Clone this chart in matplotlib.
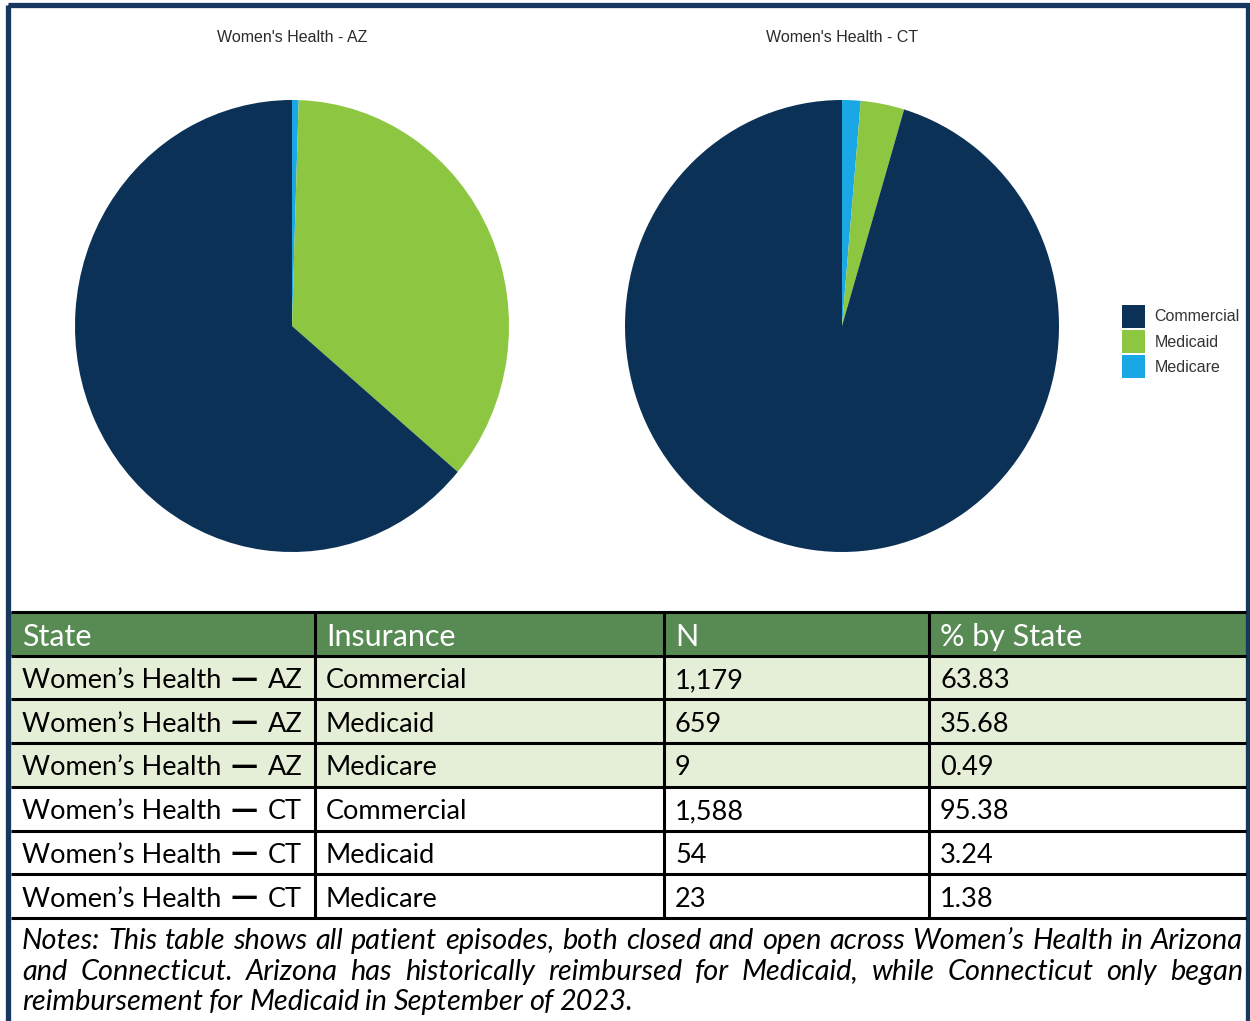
import matplotlib.pyplot as plt
from matplotlib.patches import Rectangle

# pie data (percent by state), order clockwise from 12 o'clock
pie_labels = ["Medicare", "Medicaid", "Commercial"]
az_pct = [0.49, 35.68, 63.83]
ct_pct = [1.38, 3.24, 95.38]
pie_colors = ["#1AA7E6", "#8DC640", "#0B3157"]

# table data
col_heads = ["State", "Insurance", "N", "% by State"]
program = "Women\u2019s Health"
state_codes = ["AZ", "AZ", "AZ", "CT", "CT", "CT"]
insurance = ["Commercial", "Medicaid", "Medicare"] * 2
counts = ["1,179", "659", "9", "1,588", "54", "23"]
pcts = ["63.83", "35.68", "0.49", "95.38", "3.24", "1.38"]

note_lines = [
    "Notes: This table shows all patient episodes, both closed and open across Women\u2019s Health in Arizona",
    "and Connecticut. Arizona has historically reimbursed for Medicaid, while Connecticut only began",
    "reimbursement for Medicaid in September of 2023.",
]

W, H = 1250, 1021
fig = plt.figure(figsize=(W / 100, H / 100), dpi=100)
fig.patch.set_facecolor("white")

wedges = None
for cx, vals, title in [(292, az_pct, "Women's Health - AZ"), (842, ct_pct, "Women's Health - CT")]:
    rx, ry, cy = 217, 226, 326
    ax = fig.add_axes([(cx - rx) / W, 1 - (cy + ry) / H, 2 * rx / W, 2 * ry / H])
    wedges, _ = ax.pie(vals, colors=pie_colors, startangle=90, counterclock=False,
                       radius=1, wedgeprops=dict(linewidth=0))
    ax.set_aspect("auto")
    ax.set_xlim(-1, 1)
    ax.set_ylim(-1, 1)
    fig.text(cx / W, 1 - 38 / H, title, ha="center", va="center",
             fontsize=11.5, color="#2b2b2b", family="Liberation Sans")

fig.legend(wedges[::-1], pie_labels[::-1], loc="upper left",
           bbox_to_anchor=(1122 / W, 1 - 305 / H), frameon=False,
           handlelength=1.45, handleheight=1.8, handletextpad=0.6,
           labelspacing=0.16, borderaxespad=0, borderpad=0,
           prop=dict(family="Liberation Sans", size=11.5), labelcolor="#333333")

# overlay axes in pixel coordinates for table, notes and frame
ov = fig.add_axes([0, 0, 1, 1])
ov.set_xlim(0, W)
ov.set_ylim(H, 0)
ov.axis("off")

top, rh = 612, 43.7
xl, xr = 11, 1246
col_x = [11, 315, 664, 929]
n_rows = len(state_codes) + 1
ov.add_patch(Rectangle((xl, top), xr - xl, rh, facecolor="#588B54", edgecolor="none"))
for i in range(len(state_codes)):
    fc = "#E5EFD7" if i < 3 else "white"
    ov.add_patch(Rectangle((xl, top + rh * (i + 1)), xr - xl, rh, facecolor=fc, edgecolor="none"))

font = "Lato"
fs = 19.5
for j, h in enumerate(col_heads):
    ov.text(col_x[j] + 11, top + rh / 2 + 3, h, color="white", fontsize=22, family=font,
            ha="left", va="center")
for i, row in enumerate(zip(state_codes, insurance, counts, pcts)):
    yc = top + rh * (i + 1.5) + 3
    ov.text(col_x[0] + 11, yc, program, fontsize=fs, family=font, ha="left", va="center")
    ov.text(col_x[0] + 219, yc - 1, "\u2014", fontsize=fs, family="DejaVu Sans",
            fontweight="bold", ha="left", va="center")
    ov.text(col_x[0] + 257, yc, row[0], fontsize=fs, family=font, ha="left", va="center")
    for j, val in enumerate(row[1:], start=1):
        ov.text(col_x[j] + 11, yc, val, color="black", fontsize=fs,
                family=font, ha="left", va="center")

lw = 2.2
for i in range(n_rows + 1):
    ov.plot([xl, xr], [top + rh * i] * 2, color="black", lw=lw, solid_capstyle="butt")
for x in col_x[1:]:
    ov.plot([x, x], [top, top + rh * n_rows], color="black", lw=lw, solid_capstyle="butt")

# justified notes
renderer = fig.canvas.get_renderer()
nx0, nx1 = 22, 1243
for k, line in enumerate(note_lines):
    y = 941 + k * 30.5
    words = line.split(" ")
    texts = [ov.text(0, y, w, fontsize=20.8, family=font, style="italic",
                     ha="left", va="center") for w in words]
    widths = [t.get_window_extent(renderer).width for t in texts]
    if k < len(note_lines) - 1:
        gap = (nx1 - nx0 - sum(widths)) / (len(words) - 1)
    else:
        gap = 6
    x = nx0
    for t, wd in zip(texts, widths):
        t.set_x(x)
        x += wd + gap

# outer frame
ov.add_patch(Rectangle((7.5, 5.5), 1240, 1040, facecolor="none", edgecolor="#17375E",
                       lw=3.8, clip_on=False))

fig.savefig("out.png", dpi=100)
